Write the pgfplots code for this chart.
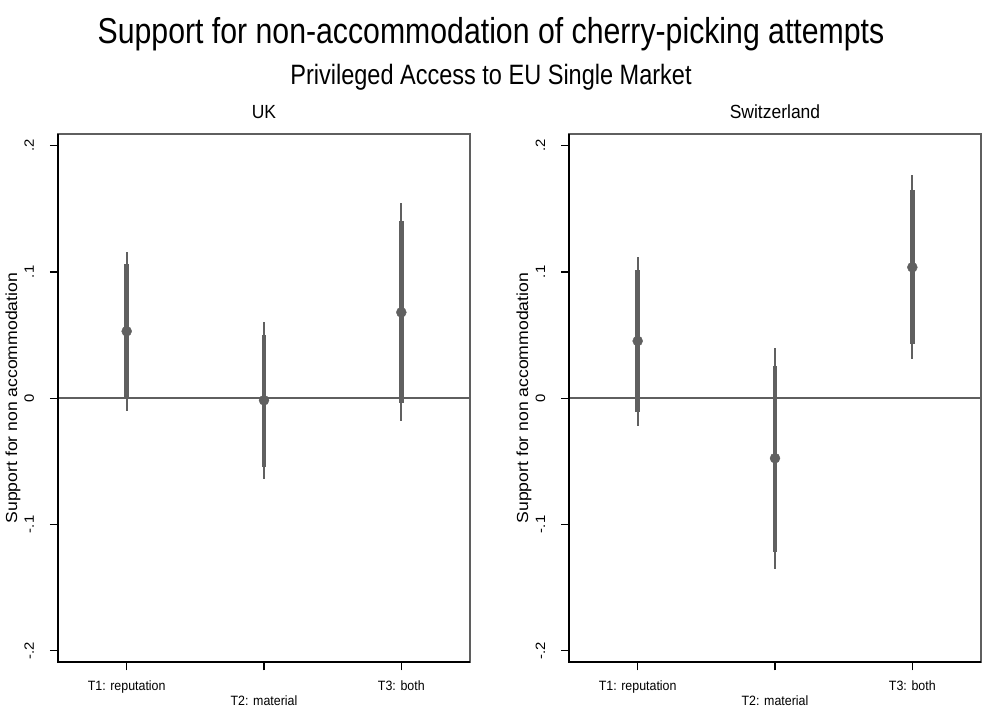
\documentclass[border=0pt]{standalone}
\usepackage{fontspec}
\setmainfont{Liberation Sans}
\newfontfamily\titlefont[FakeStretch=0.84]{Liberation Sans}
\newfontfamily\narrowfont[FakeStretch=0.92]{Liberation Sans}
\newfontfamily\rotfont[FakeStretch=1.1]{Liberation Sans}
\usepackage{pgfplots}
\pgfplotsset{compat=1.18}
\usepackage{pgfplotstable}
\definecolor{cigray}{RGB}{96,96,96}
\definecolor{framegray}{RGB}{95,95,95}

\pgfplotstableread{
x est lo90 hi90 lo95 hi95
1 0.0530 0.0012 0.1061 -0.0099 0.1160
2 -0.0017 -0.0543 0.0501 -0.0638 0.0604
3 0.0680 -0.0040 0.1404 -0.0178 0.1544
}\uk
\pgfplotstableread{
x est lo90 hi90 lo95 hi95
1 0.0453 -0.0107 0.1015 -0.0218 0.1121
2 -0.0476 -0.1216 0.0255 -0.1355 0.0395
3 0.1037 0.0427 0.1649 0.0308 0.1768
}\ch

\pgfplotsset{
  panel/.style={
    anchor=south west, width=412pt, height=528.3pt, scale only axis,
    xmin=0.5, xmax=3.5, ymin=-0.2093, ymax=0.2093,
    xtick={1,2,3},
    xticklabels={T1: reputation, \raisebox{-15pt}{T2: material}, T3: both},
    ytick={-0.2,-0.1,0,0.1,0.2},
    yticklabels={{-.2},{-.1},{0},{.1},{.2}},
    tick pos=left,
    tick align=outside, major tick length=8pt,
    tick style={black, line width=1.2pt},
    axis line style={framegray, line width=1.3pt},
    xticklabel style={anchor=base, font=\narrowfont\fontsize{13.5}{16}\selectfont},
    xticklabel shift=20pt,
    yticklabel style={rotate=90, anchor=base, font=\rotfont\fontsize{13.5}{16}\selectfont},
    yticklabel shift=16pt,
    ylabel={Support for non accommodation},
    ylabel style={at={(axis description cs:-0.0995,0.5)}, anchor=base, font=\rotfont\fontsize{16}{19}\selectfont},
    title style={at={(axis description cs:0.5,1)}, anchor=base, yshift=9pt, font=\narrowfont\fontsize{19}{22}\selectfont},
    clip=false,
  },
  cithin/.style={draw=none, mark=none, forget plot,
    error bars/.cd, y dir=both, y explicit, error mark=none,
    error bar style={cigray, line width=2.3pt}},
  cithick/.style={draw=none, mark=none, forget plot,
    error bars/.cd, y dir=both, y explicit, error mark=none,
    error bar style={cigray, line width=4.5pt}},
}

\begin{document}
\begin{tikzpicture}
\path[use as bounding box] (0,0) rectangle (982pt,711pt);
\node[anchor=base, font=\titlefont\fontsize{36}{40}\selectfont] at (491pt,667pt) {Support for non-accommodation of cherry-picking attempts};
\node[anchor=base, font=\titlefont\fontsize{28}{31}\selectfont] at (491pt,626pt) {Privileged Access to EU Single Market};

\begin{axis}[panel, at={(58pt,48.7pt)}, title={UK}]
\addplot[framegray, line width=1.5pt, forget plot] coordinates {(0.5,0) (3.5,0)};
\addplot[cithin] table[x=x, y=est, y error plus expr=\thisrow{hi95}-\thisrow{est}, y error minus expr=\thisrow{est}-\thisrow{lo95}] {\uk};
\addplot[cithick] table[x=x, y=est, y error plus expr=\thisrow{hi90}-\thisrow{est}, y error minus expr=\thisrow{est}-\thisrow{lo90}] {\uk};
\addplot[only marks, mark=*, mark size=5pt, cigray] table[x=x, y=est] {\uk};
\draw[black, line width=2pt] (rel axis cs:0,1) -- (rel axis cs:0,0) -- (rel axis cs:1,0);
\end{axis}

\begin{axis}[panel, at={(569pt,48.7pt)}, title={Switzerland}]
\addplot[framegray, line width=1.5pt, forget plot] coordinates {(0.5,0) (3.5,0)};
\addplot[cithin] table[x=x, y=est, y error plus expr=\thisrow{hi95}-\thisrow{est}, y error minus expr=\thisrow{est}-\thisrow{lo95}] {\ch};
\addplot[cithick] table[x=x, y=est, y error plus expr=\thisrow{hi90}-\thisrow{est}, y error minus expr=\thisrow{est}-\thisrow{lo90}] {\ch};
\addplot[only marks, mark=*, mark size=5pt, cigray] table[x=x, y=est] {\ch};
\draw[black, line width=2pt] (rel axis cs:0,1) -- (rel axis cs:0,0) -- (rel axis cs:1,0);
\end{axis}
\end{tikzpicture}
\end{document}
